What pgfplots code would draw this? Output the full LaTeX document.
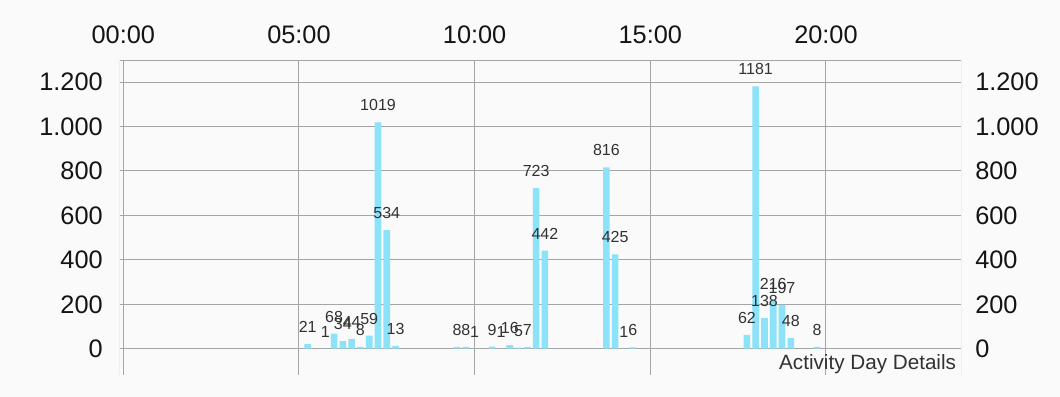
\documentclass[border=0pt]{standalone}
\usepackage{fontspec}
\setmainfont{Liberation Sans}
\usepackage{pgfplots}
\pgfplotsset{compat=1.18}
\usetikzlibrary{backgrounds}
\definecolor{barc}{RGB}{140,226,248}
\definecolor{gridc}{RGB}{165,165,165}
\definecolor{bgc}{RGB}{250,250,250}
\definecolor{valc}{RGB}{50,50,50}
\definecolor{tickc}{RGB}{20,20,20}
\begin{document}
\begin{tikzpicture}
\begin{axis}[name=ax, scale only axis, width=630.75pt, height=236.25pt,
  xmin=-0.375, xmax=95.375, ymin=-118.1, ymax=1299.1,
  axis line style={draw=none},
  xtick={0,20,40,60,80}, xticklabels={00:00,05:00,10:00,15:00,20:00},
  xticklabel pos=upper,
  ytick={0,200,...,1200},
  scaled y ticks=false,
  yticklabel pos=left,
  major tick length=0pt,
  grid=major, major grid style={gridc, line width=0.75pt},
  tick label style={font=\fontsize{19}{19}\selectfont, text=tickc, inner sep=0pt},
  yticklabel style={anchor=east, xshift=-12.75pt},
  xticklabel style={anchor=base, yshift=12.75pt},
  /pgf/number format/1000 sep={.},
  /pgf/number format/assume math mode=true,
]
\addplot[ybar, bar width=0.75, fill=barc, draw=none,
  nodes near coords={\pgfmathprintnumber[assume math mode=true,1000 sep={}]{\pgfplotspointmeta}},
  nodes near coords style={font=\fontsize{12}{12}\selectfont, text=valc, anchor=base, inner sep=0pt, yshift=8.6pt}]
coordinates {
(21,21) (23,1) (24,68) (25,34) (26,44) (27,8) (28,59) (29,1019) (30,534) (31,13)
(38,8) (39,8) (40,1) (42,9) (43,1) (44,16) (45,5) (46,7) (47,723) (48,442)
(55,816) (56,425) (57,1) (58,6)
(71,62) (72,1181) (73,138) (74,216) (75,197) (76,48) (79,8)
};
\draw[gridc, line width=0.75pt] (rel axis cs:0,0) -- (rel axis cs:0,1) -- (rel axis cs:1,1) -- (rel axis cs:1,0);
\node[anchor=base east, font=\fontsize{15.5}{15.5}\selectfont, text=valc, inner sep=0pt] at (axis cs:94.84,-94.4) {Activity Day Details};
\end{axis}
\begin{axis}[scale only axis, width=630.75pt, height=236.25pt,
  at={(ax.south west)}, anchor=south west,
  xmin=-0.375, xmax=95.375, ymin=-118.1, ymax=1299.1,
  axis line style={draw=none},
  xtick=\empty,
  ytick={0,200,...,1200},
  scaled y ticks=false,
  yticklabel pos=right,
  major tick length=0pt,
  tick label style={font=\fontsize{19}{19}\selectfont, text=tickc, inner sep=0pt},
  yticklabel style={anchor=west, xshift=10.5pt},
  /pgf/number format/1000 sep={.},
  /pgf/number format/assume math mode=true,
]
\end{axis}
\begin{scope}[on background layer]
\fill[bgc] ([shift={(-90pt,-16.5pt)}]ax.south west) rectangle ([shift={(74.25pt,45pt)}]ax.north east);
\end{scope}
\end{tikzpicture}
\end{document}
